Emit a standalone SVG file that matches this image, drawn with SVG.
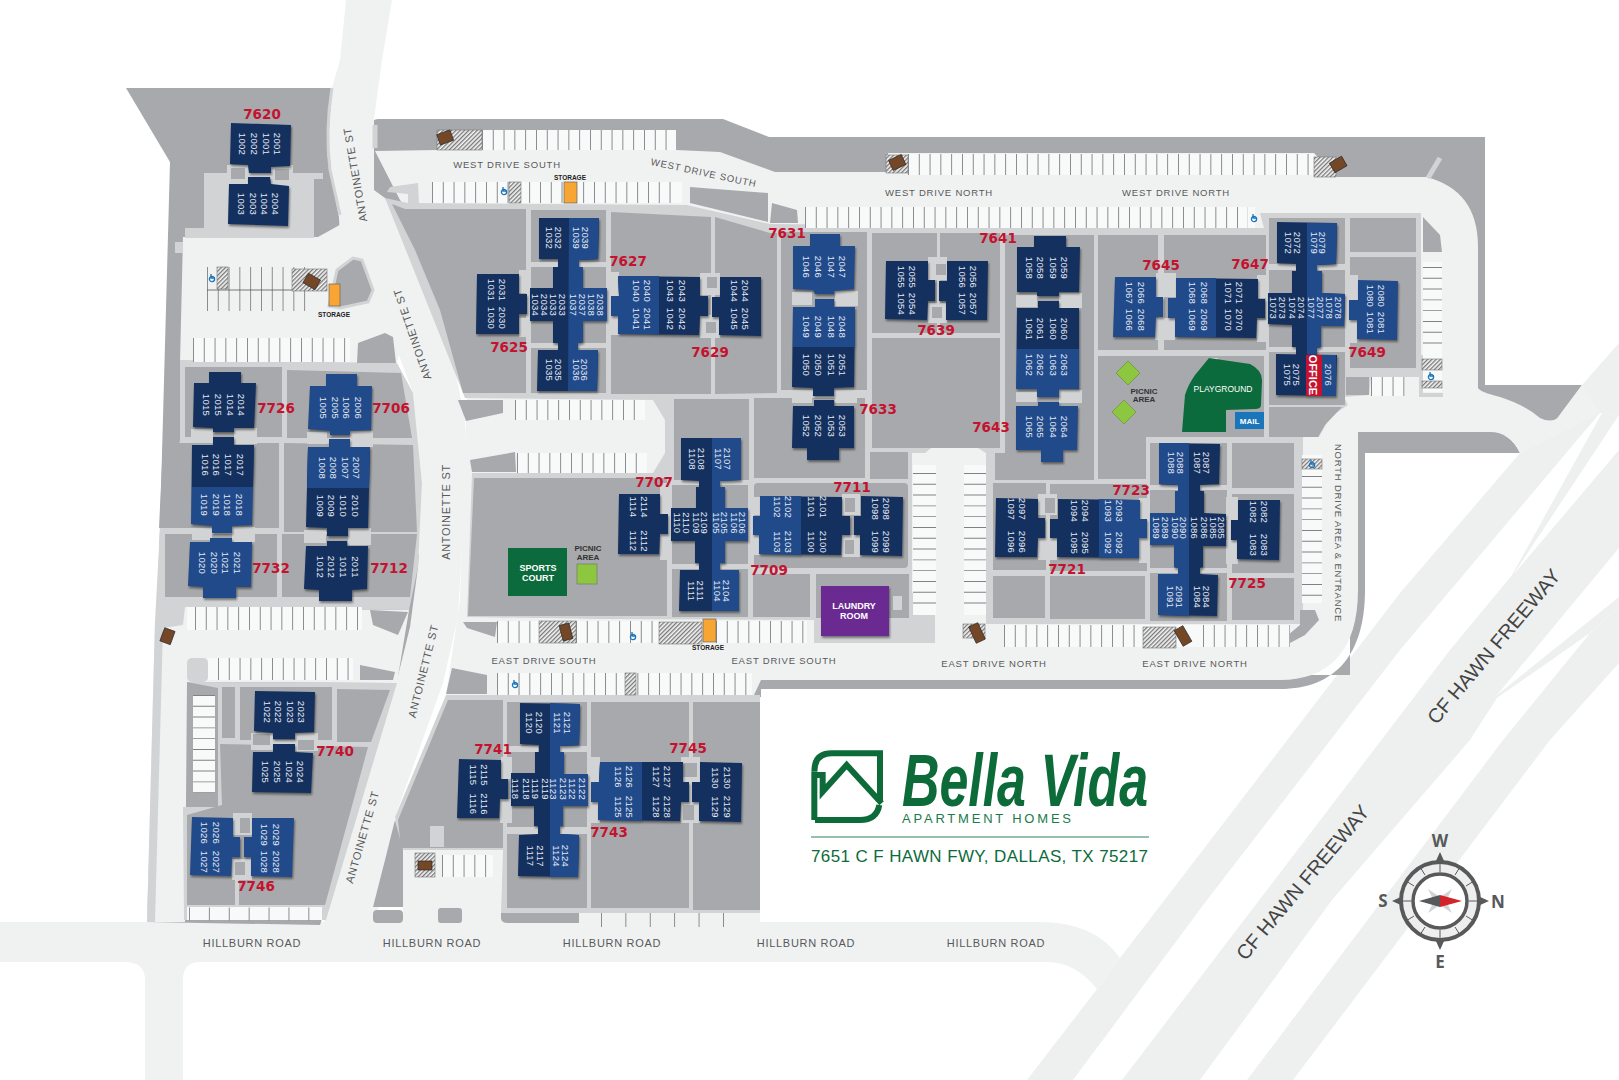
<svg xmlns="http://www.w3.org/2000/svg" width="1619" height="1080" viewBox="0 0 1619 1080">
<style>
.f{fill:#eef0f0}.r{fill:#f0f2f2}.g{fill:#a7a9ac}.s{fill:#d1d3d4}.w{fill:#f8f9f9}
.st{fill:none;stroke:#808184;stroke-dasharray:.9 9.9}
.h{fill:url(#hatch);stroke:#777;stroke-width:.6}
.dp{fill:#744726;stroke:#2b2b2b;stroke-width:.7}
.o{fill:#f9a533;stroke:#666;stroke-width:.7}
.b{filter:drop-shadow(1px 2px 1px rgba(0,0,0,.45))}
.d{fill:#14305f}.m{fill:#214a8b}
text{font-family:"Liberation Sans",Arial,sans-serif}
.u{font-size:9.500px;fill:#e6ebf3;text-anchor:middle;letter-spacing:.3px}
.n text{font-family:"DejaVu Sans",sans-serif;font-size:13.500px;font-weight:700;fill:#c4122f;text-anchor:middle}
.rd{font-size:9.500px;fill:#58595b;text-anchor:middle;letter-spacing:.8px}
.hb{font-size:11px;fill:#58595b;text-anchor:middle;letter-spacing:.7px}
.sm{font-size:6.500px;font-weight:700;fill:#222;text-anchor:middle}
.pa{font-size:8px;font-weight:700;fill:#333;text-anchor:middle}
.wt{font-size:9px;font-weight:700;fill:#fff;text-anchor:middle}
.fw{font-size:20px;fill:#444;text-anchor:middle}
.cp{font-family:"Noto Sans",sans-serif;font-size:17px;font-weight:700;fill:#58595b;text-anchor:middle}
</style>
<defs>
<pattern id="hatch" width="3" height="3" patternUnits="userSpaceOnUse" patternTransform="rotate(45)"><rect width="3" height="3" fill="#f4f4f4"/><rect width="1.3" height="3" fill="#777"/></pattern>
<g id="hc" fill="none" stroke="#1b75bb" stroke-width="1.3"><circle cx="0" cy="1" r="2.6"/><path d="M-1,-4V0H3"/></g>
</defs>
<rect width="1619" height="1080" fill="#fff"/>

<g id="freeways">
<path class="f" d="M1582,385L1619,343V415L1600,413L1400,650L1207,900L1073,1080H1027L1097,989L1120,958L1400,593L1520,453Z"/>
<path class="f" d="M1122,1080L1450,650L1512,575L1602,413L1619,415L1513,575L1619,450V548L1507,683L1497,695L1619,597V607L1590,633L1497,698L1470,740L1332,900L1200,1080Z"/>
<path class="f" d="M1247,1080L1503,740L1590,633L1619,607V663L1550,740L1293,1080Z"/>
<path class="r" d="M0,922H1040Q1095,922 1120,958L1097,989Q1075,962 1047,962H200Q183,962 183,980V1080H145V980Q145,962 125,962H0Z"/>
</g>

<g id="grounds">
<path class="g" d="M126,88H335L340,240L380,400L420,560L410,660L320,925L147,922L160,527L170,162Z"/>
<path class="g" d="M372,125Q372,119 378,119H723L769,137H1485V385H1582L1552,425L1490,440H1300L400,210L372,190Z"/>
<path class="g" d="M1350,432H1490Q1510,432 1520,453H1365V590C1365,655 1335,689 1280,689H761V697H700V675H1350Z"/>
<path class="r" d="M346,0H392L382,60L374,119V190L385,198L420,260L453,360L465,420L467,463L458,617L443,683L395,817L401,850L373,922H324L332,860L369,743L397,680L410,627L418,567L422,483L413,393L397,350L390,333L340,223L327,153L332,88L340,60Z"/>
<path class="r" d="M375,151L437,150V130H676V150L720,152L775,172H888V153H1314L1337,177H1426Q1478,190 1478,247V388Q1480,392 1500,397Q1525,405 1540,418Q1550,423 1558,418L1582,385L1600,413L1520,453Q1510,432 1490,432H1358V590C1358,650 1330,680 1280,680H761L754,695H446L460,600L470,300L400,200Z"/>
<path class="r" d="M183,237H318L345,222L400,350L397,363H180Z"/>
<path class="r" d="M155,620L185,607L409,610L397,683L187,682L185,922H147Z"/>
<rect class="r" x="403" y="845" width="100" height="80"/><rect class="r" x="575" y="905" width="185" height="22"/>
<path class="s" d="M155,620L163,628L155,922H147Z"/>
<path class="s" d="M385,198L408,203L687,205L770,224L1264,228L1260,213H1421V377H1371L1369,395L1344,397L1348,405L1330,417L1319,437H1303V622L1300,624H986V453L973,445H935L925,453H912V593H935V643H814V620L600,619L467,617L472,473H653L665,453V420L653,400L465,398Z"/>
<path class="s" d="M180,360L397,363L413,393L422,483L418,567L409,610L185,607L183,625L163,628L155,622L160,528L180,440Z"/>
<path class="s" d="M187,682L397,683L326,920H184L183,807H218V688Z"/>
<path class="s" d="M446,695H760V913H501L503,850H401L395,817Z"/>
<rect class="s" x="187" y="658" width="21" height="24" rx="5"/>
<path class="s" d="M210,173H323V179H314V238H185V228H204V173Z"/>
<rect class="s" x="175" y="242" width="8" height="11"/>
<path class="s" d="M387,192L390,187L418,183L419,205H408V194Z"/>
<path fill="none" stroke="#d1d3d4" stroke-width="5" d="M375,125V148M1440,158L1428,178"/>
<path fill="none" stroke="#d1d3d4" stroke-width="3" d="M332,88Q325,130 330,170L340,215"/>
<rect class="s" x="1419" y="355" width="4" height="40"/><rect class="s" x="1419" y="393" width="24" height="4"/>

<!-- lots -->
<g class="g">
<path d="M392,204L405,209H526V393H463L440,310L415,250Z"/>
<rect x="531" y="210" width="75" height="183"/>
<path d="M611,212L711,217V394H611Z"/><path d="M715,217L770,233H777V393L715,394Z"/>
<rect x="781" y="232" width="86" height="158"/>
<rect x="674" y="399" width="75" height="81"/>
<rect x="672" y="484" width="76" height="133"/>
<path d="M474,478H667V616H468Z"/>
<rect x="754" y="398" width="111" height="80"/><rect x="754" y="483" width="154" height="85" rx="4"/>
<rect x="753" y="574" width="57" height="43"/><rect x="816" y="574" width="93" height="44"/>
<rect x="872" y="233" width="65" height="100"/><rect x="940" y="233" width="60" height="100"/><rect x="872" y="338" width="128" height="110"/>
<rect x="870" y="452" width="38" height="27"/><rect x="1005" y="235" width="89" height="245"/><rect x="995" y="453" width="12" height="27"/>
<rect x="1098" y="235" width="60" height="115"/><rect x="1164" y="235" width="102" height="115"/>
<rect x="1098" y="356" width="166" height="81"/><rect x="1098" y="437" width="48" height="42"/>
<rect x="1269" y="218" width="76" height="187"/><path d="M1269,407H1342L1325,425L1318,437H1269Z"/>
<rect x="1350" y="218" width="66" height="34"/><rect x="1350" y="257" width="66" height="111"/><rect x="1346" y="377" width="23" height="18"/>
<rect x="993" y="483" width="53" height="87"/><rect x="1050" y="484" width="97" height="87"/>
<rect x="993" y="576" width="52" height="42"/><rect x="1050" y="576" width="95" height="43"/>
<rect x="1150" y="443" width="77" height="178"/><rect x="1232" y="443" width="62" height="45"/><rect x="1232" y="494" width="62" height="79"/><rect x="1232" y="578" width="62" height="42"/>
<rect x="185" y="367" width="97" height="70"/><path d="M287,370L401,373L412,438H287Z"/>
<path d="M163,443H279V528H159Z"/><path d="M284,443L413,445L417,532H284Z"/>
<rect x="165" y="534" width="112" height="63"/><path d="M282,534H417L410,597H282Z"/>
<rect x="222" y="687" width="13" height="51"/><rect x="240" y="687" width="92" height="53"/>
<path d="M337,689L390,690L371,742H337Z"/><path d="M220,744L368,747L325,905H187V815L222,805Z"/>
<rect x="507" y="702" width="80" height="206"/><rect x="591" y="702" width="98" height="206"/><rect x="693" y="702" width="67" height="208"/>
<path d="M448,700H503V848H401L398,820Z"/>
<path d="M395,820L403,850V907H373L385,860Z"/><rect x="373" y="910" width="30" height="13" rx="4"/><rect x="438" y="908" width="24" height="15" rx="3"/>
<path d="M501,913H579V923H508Q501,923 501,918Z"/>
<path d="M337,270L353,258L362,260L373,290L368,302L340,308L329,306Z" stroke="#d1d3d4" stroke-width="3"/>
<path d="M357,363L358,343L385,333L393,337L396,363Z"/>
<path d="M458,400H503V413L466,421Z"/><path d="M470,460L515,452L516,472H472Z"/>
<path d="M463,622H497L495,637L467,628Z"/><path d="M370,610L408,612L398,635L373,625Z"/>
<path d="M360,665L395,672L393,680H360Z"/><path d="M452,668L487,675V694H446Z"/>
<path d="M690,187L768,193V222L690,203Z"/><path d="M772,203L797,210L798,223H770Z"/>
<path d="M1423,217L1440,235L1442,252H1423Z"/>
<path d="M1300,610H1315L1319,620L1305,635L1290,643L1288,635L1300,625Z"/>
</g>
<!-- walks and plazas -->
<g class="s">
<rect x="531" y="262" width="27" height="5"/><rect x="579" y="262" width="28" height="5"/><rect x="531" y="343" width="27" height="5"/><rect x="578" y="343" width="29" height="5"/>
<rect x="672" y="480" width="27" height="5"/><rect x="720" y="480" width="28" height="5"/><rect x="672" y="564" width="27" height="5"/><rect x="720" y="564" width="28" height="5"/>
<rect x="1150" y="485" width="28" height="5"/><rect x="1200" y="485" width="27" height="5"/><rect x="1150" y="568" width="28" height="5"/><rect x="1200" y="568" width="27" height="5"/>
<rect x="507" y="746" width="31" height="6"/><rect x="560" y="746" width="27" height="6"/><rect x="507" y="827" width="31" height="7"/><rect x="560" y="827" width="27" height="7"/>
<rect x="1269" y="264" width="27" height="6"/><rect x="1317" y="264" width="28" height="6"/><rect x="1269" y="347" width="27" height="5"/><rect x="1317" y="347" width="28" height="5"/>
<rect x="227" y="165" width="22" height="20"/><rect x="271" y="165" width="22" height="20"/>
<rect x="519" y="270" width="8" height="23"/><rect x="519" y="318" width="8" height="19"/>
<rect x="700" y="273" width="20" height="22"/><rect x="700" y="315" width="20" height="23"/>
<rect x="792" y="292" width="20" height="13"/><rect x="835" y="291" width="23" height="15"/><rect x="792" y="390" width="20" height="13"/><rect x="835" y="390" width="22" height="13"/>
<rect x="928" y="257" width="19" height="23"/><rect x="928" y="303" width="19" height="20"/>
<rect x="1016" y="295" width="21" height="12"/><rect x="1059" y="293" width="23" height="15"/><rect x="1016" y="392" width="21" height="10"/><rect x="1059" y="390" width="23" height="13"/>
<rect x="191" y="429" width="22" height="14"/><rect x="234" y="428" width="23" height="16"/><rect x="192" y="528" width="20" height="12"/><rect x="232" y="527" width="23" height="15"/>
<rect x="307" y="432" width="20" height="12"/><rect x="350" y="431" width="23" height="16"/><rect x="304" y="530" width="22" height="13"/><rect x="348" y="528" width="23" height="17"/>
<rect x="842" y="494" width="18" height="21"/><rect x="842" y="535" width="18" height="22"/>
<rect x="1038" y="494" width="19" height="21"/><rect x="1038" y="538" width="19" height="22"/>
<rect x="1156" y="273" width="20" height="24"/><rect x="1155" y="318" width="20" height="22"/>
<rect x="1257" y="275" width="11" height="23"/><rect x="1257" y="320" width="11" height="22"/>
<rect x="1346" y="275" width="12" height="25"/><rect x="1346" y="320" width="11" height="23"/>
<rect x="607" y="272" width="12" height="24"/><rect x="607" y="315" width="12" height="20"/>
<rect x="660" y="483" width="12" height="31"/><rect x="660" y="534" width="12" height="26"/>
<rect x="749" y="497" width="11" height="18"/><rect x="749" y="535" width="11" height="20"/>
<rect x="1139" y="498" width="11" height="21"/><rect x="1139" y="538" width="11" height="25"/>
<rect x="1226" y="497" width="12" height="23"/><rect x="1226" y="540" width="12" height="24"/>
<rect x="251" y="733" width="22" height="17"/><rect x="295" y="733" width="23" height="18"/>
<rect x="501" y="757" width="11" height="22"/><rect x="500" y="799" width="12" height="24"/>
<rect x="588" y="757" width="12" height="25"/><rect x="588" y="802" width="12" height="21"/>
<rect x="681" y="757" width="19" height="25"/><rect x="681" y="802" width="19" height="21"/>
<rect x="233" y="813" width="19" height="22"/><rect x="232" y="859" width="20" height="21"/>
<rect x="430" y="826" width="14" height="21"/><rect x="235" y="877" width="4" height="28"/>
<rect x="1209" y="358" width="9" height="6"/><rect x="893" y="596" width="9" height="14"/>
</g>
<g class="g">
<rect x="231" y="168" width="14" height="11"/><rect x="275" y="169" width="14" height="11"/>
<rect x="707" y="277" width="10" height="11"/><rect x="706" y="322" width="10" height="11"/>
<rect x="936" y="264" width="10" height="11"/><rect x="932" y="307" width="10" height="11"/>
<rect x="845" y="498" width="10" height="14"/><rect x="845" y="540" width="9" height="14"/>
<rect x="1045" y="498" width="10" height="15"/>
<rect x="253" y="734" width="17" height="11"/><rect x="298" y="740" width="16" height="10"/>
<rect x="683" y="763" width="14" height="14"/><rect x="683" y="805" width="11" height="15"/>
<rect x="240" y="818" width="10" height="15"/><rect x="235" y="862" width="10" height="13"/>
</g>
</g>

<g id="parking">
<g class="w">
<rect x="482" y="130" width="194" height="20"/><rect x="432" y="182" width="250" height="21"/>
<rect x="908" y="154" width="406" height="21"/><rect x="805" y="207" width="450" height="21"/>
<rect x="1423" y="262" width="19" height="130"/><rect x="1371" y="377" width="34" height="19"/>
<rect x="1302" y="455" width="20" height="148"/><rect x="1004" y="625" width="286" height="22"/>
<rect x="913" y="465" width="23" height="150"/><rect x="964" y="465" width="22" height="150"/>
<rect x="497" y="621" width="310" height="22"/><rect x="497" y="673" width="255" height="22"/>
<rect x="187" y="607" width="175" height="23"/><rect x="208" y="658" width="145" height="22"/>
<rect x="193" y="695" width="22" height="98"/><rect x="187" y="907" width="135" height="13"/>
<rect x="442" y="855" width="51" height="22"/><rect x="515" y="400" width="130" height="20"/><rect x="517" y="453" width="130" height="20"/>
<rect x="193" y="338" width="157" height="24"/>
</g>
<g class="st">
<path stroke-width="20" d="M482,140H676"/><path stroke-width="21" d="M432,192.500H676"/>
<path stroke-width="21" d="M908,164.500H1314"/><path stroke-width="21" d="M805,217.500H1248"/>
<path stroke-width="19" d="M1432.500,267V352"/><path stroke-width="19" d="M1371,386.500H1405"/>
<path stroke-width="20" d="M1312,476V602"/><path stroke-width="22" d="M1004,636H1143"/><path stroke-width="22" d="M1203,636H1290"/>
<path stroke-width="23" d="M924.500,473V613"/><path stroke-width="22" d="M975,473V613"/>
<path stroke-width="22" d="M497,632H539"/><path stroke-width="22" d="M576,632H659"/><path stroke-width="22" d="M716,632H805"/>
<path stroke-width="22" d="M497,684H752"/><path stroke-width="23" d="M195,618.500H358"/><path stroke-width="22" d="M218,669H350"/>
<path stroke-width="22" d="M204,695V793"/><path stroke-width="22" d="M442,866H493"/>
<path stroke-width="20" d="M515,410H643"/><path stroke-width="20" d="M517,463H643"/>
<path stroke-width="24" d="M193,350H347"/><path stroke-width="44" d="M207,289H313"/>
<path stroke-width="13" stroke-dasharray=".9 19" d="M189,914H320"/><path stroke-width="14" stroke-dasharray=".9 23.500" d="M601,920H724"/>
</g>
<path d="M207,290H292" stroke="#555" stroke-width=".8"/>
<rect class="h" x="437" y="130" width="45" height="20"/><rect class="h" x="509" y="182" width="12" height="21"/>
<rect class="h" x="886" y="155" width="22" height="18"/><rect class="h" x="1314" y="157" width="22" height="20"/>
<rect class="h" x="1422" y="359" width="20" height="11"/><rect class="h" x="1422" y="381" width="20" height="7"/>
<rect class="h" x="1302" y="459" width="20" height="10"/><rect class="h" x="1143" y="627" width="33" height="21"/>
<rect class="h" x="963" y="624" width="22" height="14"/><rect class="h" x="539" y="621" width="37" height="22"/>
<rect class="h" x="659" y="622" width="43" height="22"/><rect class="h" x="625" y="673" width="11" height="22"/>
<rect class="h" x="217" y="267" width="11" height="22"/><rect class="h" x="292" y="269" width="35" height="22"/>
<rect class="h" x="415" y="853" width="20" height="24"/>
<g class="dp">
<rect x="438" y="132" width="14" height="11" transform="rotate(-20 445 137)"/>
<rect x="890" y="157" width="14" height="11" transform="rotate(-25 897 162)"/>
<rect x="1331" y="159" width="14" height="11" transform="rotate(-30 1338 164)"/>
<rect x="305" y="276" width="14" height="11" transform="rotate(30 312 281)"/>
<rect x="160" y="631" width="14" height="11" transform="rotate(-70 167 636)"/>
<rect x="972" y="624" width="10" height="18" transform="rotate(-25 977 633)"/>
<rect x="1178" y="627" width="10" height="18" transform="rotate(-30 1183 636)"/>
<rect x="561" y="624" width="10" height="16" transform="rotate(-15 566 632)"/>
<rect x="418" y="861" width="14" height="9"/>
</g>
<rect class="o" x="564" y="182" width="13" height="21"/><rect class="o" x="703" y="619" width="13" height="23"/><rect class="o" x="329" y="284" width="11" height="22"/>
<use href="#hc" x="504" y="191"/><use href="#hc" x="1254" y="218"/><use href="#hc" x="1431" y="376"/><use href="#hc" x="1312" y="464"/><use href="#hc" x="633" y="636"/><use href="#hc" x="515" y="684"/><use href="#hc" x="212" y="278"/>
<text class="sm" x="570" y="179.500">STORAGE</text><text class="sm" x="708" y="649.500">STORAGE</text><text class="sm" x="334" y="316.500">STORAGE</text>
</g>

<g id="amenities">
<g id="sports"><rect x="508" y="548" width="59" height="48" fill="#0c6b3c"/><text class="wt" x="538" y="571">SPORTS</text><text class="wt" x="538" y="581">COURT</text></g>
<g id="picnic1"><rect x="577" y="564" width="20" height="20" fill="#8dc63f" stroke="#666" stroke-width=".5"/><text class="pa" x="588" y="551">PICNIC</text><text class="pa" x="588" y="560">AREA</text></g>
<g id="picnic2"><path d="M1128,361L1140,373L1128,385L1116,373ZM1124,400L1136,412L1124,424L1112,412Z" fill="#8dc63f" stroke="#5d7f2a" stroke-width=".5"/><text class="pa" x="1144" y="394">PICNIC</text><text class="pa" x="1144" y="402">AREA</text></g>
<g id="playground"><path d="M1209,358L1250,364Q1262,370 1262,380L1261,405Q1261,409 1255,409L1226,410V432H1182L1185,395Q1188,385 1195,375Z" fill="#0c6b3c"/><text x="1223" y="392" font-size="8.500" fill="#fff" text-anchor="middle">PLAYGROUND</text></g>
<g id="mail"><rect x="1235" y="412" width="29" height="17" fill="#1b75bb"/><text x="1249.500" y="424" font-size="8" font-weight="700" fill="#fff" text-anchor="middle">MAIL</text></g>
<g id="laundry"><rect class="b" x="821" y="586" width="68" height="50" fill="#6a2a91"/><text class="wt" x="854" y="609">LAUNDRY</text><text class="wt" x="854" y="619">ROOM</text></g>
</g>

<g id="buildings">
<g class="b"><polygon class="d" points="231,123 291,125 290,166 271,167 271,173 249,173 248,165 230,164"/><polygon class="d" points="229,184 248,184 248,177 270,177 271,184 289,186 288,226 228,224"/>
<polygon class="d" points="477,274 519,274 519,294 527,294 527,314 519,314 519,334 476,334"/>
<polygon class="d" points="539,218 599,218 598,259 579,260 579,267 583,267 583,288 607,288 607,321 583,321 583,342 578,343 578,350 598,350 597,391 537,391 538,350 558,350 558,343 553,343 553,321 530,321 530,288 553,288 553,267 558,267 558,259 539,259"/><polygon class="m" points="569,218 599,218 598,259 579,260 579,267 583,267 583,288 607,288 607,321 583,321 583,342 578,343 578,350 598,350 597,391 568,391"/>
<polygon class="d" points="618,276 700,277 700,296 708,296 708,316 700,316 699,335 618,334 618,316 611,316 611,296 619,296"/><polygon class="m" points="618,276 659,276 659,334 618,334 618,316 611,316 611,296 619,296"/>
<polygon class="d" points="720,277 761,277 761,336 719,335 719,317 712,317 712,297 720,297"/>
<polygon class="m" points="810,234 840,234 840,246 855,246 854,289 834,291 834,294 815,294 813,290 793,289 793,246 810,246"/>
<polygon class="d" points="815,299 834,299 834,307 855,307 854,387 834,388 834,396 813,396 813,388 792,387 793,307 815,307"/><polygon class="m" points="815,299 834,299 834,307 855,307 855,347 793,347 793,307 815,307"/>
<polygon class="d" points="814,400 834,400 834,406 854,406 854,448 839,448 839,460 807,460 807,448 792,448 793,406 814,406"/>
<polygon class="d" points="886,261 928,261 928,280 935,280 935,301 928,301 927,320 885,319"/>
<polygon class="d" points="947,261 988,261 987,320 946,320 946,301 939,301 939,281 947,281"/>
<polygon class="d" points="1034,236 1066,236 1066,247 1080,247 1079,292 1059,292 1059,296 1037,296 1037,292 1017,292 1017,247 1034,247"/>
<polygon class="m" points="1038,301 1059,301 1059,308 1079,308 1079,389 1059,389 1059,397 1037,397 1037,389 1016,389 1017,308 1038,308"/><polygon class="d" points="1038,301 1059,301 1059,308 1079,308 1079,349 1017,349 1017,308 1038,308"/>
<polygon class="m" points="1038,402 1059,402 1059,406 1078,406 1077,450 1063,450 1063,462 1041,462 1041,450 1016,450 1016,406 1038,406"/>
<polygon class="m" points="1115,277 1156,277 1156,297 1163,297 1163,317 1156,317 1155,337 1113,337"/>
<polygon class="d" points="1176,278 1258,279 1258,299 1265,299 1265,318 1257,318 1256,338 1175,337 1175,318 1168,318 1168,298 1176,298"/><polygon class="m" points="1176,278 1216,278 1216,337 1175,337 1175,318 1168,318 1168,298 1176,298"/>
<polygon class="d" points="1277,222 1337,223 1336,264 1317,265 1317,271 1322,271 1322,293 1345,294 1344,326 1321,326 1321,347 1317,348 1317,355 1296,355 1296,347 1292,347 1292,325 1268,324 1268,293 1292,293 1292,271 1296,271 1296,264 1277,263"/><polygon class="m" points="1307,223 1337,223 1336,264 1317,265 1317,271 1322,271 1322,293 1345,294 1344,326 1321,326 1321,347 1317,348 1317,355 1307,355"/>
<polygon class="d" points="1276,354 1337,355 1336,396 1276,395"/><rect class="m" x="1322" y="355" width="14" height="41"/><rect x="1306" y="355" width="16" height="41" fill="#c4122f"/>
<polygon class="m" points="1358,280 1398,281 1397,340 1357,339 1357,320 1349,320 1349,300 1358,300"/>
<polygon class="d" points="209,372 241,372 241,383 256,383 254,428 234,428 234,432 213,432 213,428 193,427 194,383 209,383"/>
<polygon class="m" points="213,437 234,437 234,445 254,445 252,525 232,526 232,533 212,533 212,526 191,524 192,445 213,445"/><polygon class="d" points="213,437 234,437 234,445 254,445 253,487 192,487 192,445 213,445"/>
<polygon class="m" points="210,538 232,538 232,542 252,542 251,587 236,587 236,598 203,598 203,587 188,586 190,542 210,542"/>
<polygon class="m" points="326,374 357,374 357,386 372,386 371,430 350,431 350,435 330,435 330,431 308,429 310,386 326,386"/>
<polygon class="d" points="329,439 350,439 350,447 370,447 368,528 348,528 348,536 327,536 327,528 306,527 308,447 329,447"/><polygon class="m" points="329,439 350,439 350,447 370,447 369,488 307,488 308,447 329,447"/>
<polygon class="d" points="327,541 347,541 347,546 368,546 367,589 352,590 352,601 319,601 319,590 304,589 306,546 327,546"/>
<polygon class="d" points="681,438 741,438 741,480 720,481 720,487 725,487 725,508 748,508 748,541 725,541 725,563 720,563 720,570 739,570 739,611 679,611 680,570 699,570 699,563 695,563 695,541 671,541 671,508 696,508 696,487 699,487 699,481 681,480"/><polygon class="m" points="712,438 741,438 741,480 720,481 720,487 725,487 725,508 748,508 748,541 725,541 725,563 720,563 720,570 739,570 739,611 712,611"/>
<polygon class="d" points="619,494 660,494 660,514 668,514 668,534 660,534 659,554 618,554"/>
<polygon class="d" points="760,496 842,497 842,516 850,516 850,535 842,535 841,555 759,554 759,535 753,535 753,516 760,516"/><polygon class="m" points="760,496 801,496 801,555 759,554 759,535 753,535 753,516 760,516"/>
<polygon class="d" points="861,496 903,497 902,556 860,555 860,535 854,535 854,516 861,516"/>
<polygon class="d" points="996,498 1038,499 1038,518 1045,518 1045,538 1038,538 1037,557 995,557"/>
<polygon class="d" points="1058,499 1140,500 1140,519 1147,519 1147,538 1139,538 1139,558 1057,557 1057,538 1050,538 1050,519 1058,519"/><polygon class="m" points="1099,499 1140,500 1140,519 1147,519 1147,538 1139,538 1139,558 1099,558"/>
<polygon class="d" points="1159,443 1220,444 1219,484 1200,485 1200,491 1204,491 1204,513 1226,514 1226,546 1203,546 1203,567 1200,568 1200,574 1218,575 1217,616 1158,615 1158,574 1178,574 1178,568 1174,567 1174,545 1150,545 1150,513 1175,513 1175,491 1178,491 1178,485 1159,484"/><polygon class="m" points="1189,443 1159,443 1159,484 1178,485 1178,491 1175,491 1175,513 1150,513 1150,545 1174,545 1174,567 1178,568 1178,574 1158,574 1158,615 1189,616"/>
<polygon class="d" points="1238,500 1280,500 1279,560 1237,559 1237,540 1231,540 1231,520 1238,520"/>
<polygon class="d" points="255,691 315,692 314,732 295,733 295,739 273,739 273,733 254,731"/>
<polygon class="d" points="253,752 273,752 273,744 295,744 295,752 313,753 311,793 252,792"/>
<polygon class="m" points="192,817 233,818 233,837 240,837 240,857 232,857 231,876 190,875"/>
<polygon class="m" points="252,818 294,818 292,877 251,876 251,857 244,857 244,837 252,837"/>
<polygon class="d" points="520,703 580,704 579,745 560,746 560,752 564,752 564,774 588,774 588,806 563,806 563,826 560,826 560,834 579,835 578,877 518,876 519,835 538,834 538,826 534,826 534,806 511,806 511,773 535,773 535,752 539,752 539,745 520,744"/><polygon class="m" points="550,703 580,704 579,745 560,746 560,752 564,752 564,774 588,774 588,806 563,806 563,826 560,826 560,834 579,835 578,877 550,877"/>
<polygon class="d" points="459,759 501,760 501,779 508,779 508,799 500,799 499,818 457,818"/>
<polygon class="d" points="600,762 683,762 683,782 689,782 689,802 681,802 680,821 598,820 598,802 591,802 591,782 599,782"/><polygon class="m" points="600,762 642,762 642,821 598,820 598,802 591,802 591,782 599,782"/>
<polygon class="d" points="700,762 742,763 741,822 699,821 699,802 692,802 692,782 700,782"/></g>
<g id="unit-labels" class="u">
<text transform="translate(274,144) rotate(90)">2001</text><text transform="translate(263,144) rotate(90)">1001</text><text transform="translate(251,144) rotate(90)">2002</text><text transform="translate(239,144) rotate(90)">1002</text>
<text transform="translate(272,204) rotate(90)">2004</text><text transform="translate(261,204) rotate(90)">1004</text><text transform="translate(250,204) rotate(90)">2003</text><text transform="translate(238,204) rotate(90)">1003</text>
<text transform="translate(499,290) rotate(90)">2031</text><text transform="translate(499,318) rotate(90)">2030</text><text transform="translate(488,290) rotate(90)">1031</text><text transform="translate(488,318) rotate(90)">1030</text>
<text transform="translate(582,238) rotate(90)">2039</text><text transform="translate(573,238) rotate(90)">1039</text><text transform="translate(555,238) rotate(90)">2032</text><text transform="translate(546,238) rotate(90)">1032</text>
<text transform="translate(532,305) rotate(90)">1034</text><text transform="translate(541,305) rotate(90)">2034</text><text transform="translate(550,305) rotate(90)">1033</text><text transform="translate(559,305) rotate(90)">2033</text><text transform="translate(570,305) rotate(90)">1037</text><text transform="translate(579,305) rotate(90)">2037</text><text transform="translate(588,305) rotate(90)">1038</text><text transform="translate(597,305) rotate(90)">2038</text>
<text transform="translate(581,370) rotate(90)">2036</text><text transform="translate(573,370) rotate(90)">1036</text><text transform="translate(555,370) rotate(90)">2035</text><text transform="translate(546,370) rotate(90)">1035</text>
<text transform="translate(644,291) rotate(90)">2040</text><text transform="translate(633,291) rotate(90)">1040</text><text transform="translate(644,319) rotate(90)">2041</text><text transform="translate(633,319) rotate(90)">1041</text>
<text transform="translate(679,291) rotate(90)">2043</text><text transform="translate(667,291) rotate(90)">1043</text><text transform="translate(679,319) rotate(90)">2042</text><text transform="translate(667,319) rotate(90)">1042</text>
<text transform="translate(742,291) rotate(90)">2044</text><text transform="translate(731,291) rotate(90)">1044</text><text transform="translate(742,319) rotate(90)">2045</text><text transform="translate(731,319) rotate(90)">1045</text>
<text transform="translate(839,267) rotate(90)">2047</text><text transform="translate(828,267) rotate(90)">1047</text><text transform="translate(815,267) rotate(90)">2046</text><text transform="translate(803,267) rotate(90)">1046</text>
<text transform="translate(839,327) rotate(90)">2048</text><text transform="translate(828,327) rotate(90)">1048</text><text transform="translate(815,327) rotate(90)">2049</text><text transform="translate(803,327) rotate(90)">1049</text>
<text transform="translate(839,365) rotate(90)">2051</text><text transform="translate(828,365) rotate(90)">1051</text><text transform="translate(815,365) rotate(90)">2050</text><text transform="translate(803,365) rotate(90)">1050</text>
<text transform="translate(839,426) rotate(90)">2053</text><text transform="translate(828,426) rotate(90)">1053</text><text transform="translate(815,426) rotate(90)">2052</text><text transform="translate(803,426) rotate(90)">1052</text>
<text transform="translate(909,277) rotate(90)">2055</text><text transform="translate(898,277) rotate(90)">1055</text><text transform="translate(909,304) rotate(90)">2054</text><text transform="translate(898,304) rotate(90)">1054</text>
<text transform="translate(970,277) rotate(90)">2056</text><text transform="translate(959,277) rotate(90)">1056</text><text transform="translate(970,304) rotate(90)">2057</text><text transform="translate(959,304) rotate(90)">1057</text>
<text transform="translate(1061,268) rotate(90)">2059</text><text transform="translate(1050,268) rotate(90)">1059</text><text transform="translate(1037,268) rotate(90)">2058</text><text transform="translate(1026,268) rotate(90)">1058</text>
<text transform="translate(1061,329) rotate(90)">2060</text><text transform="translate(1050,329) rotate(90)">1060</text><text transform="translate(1037,329) rotate(90)">2061</text><text transform="translate(1026,329) rotate(90)">1061</text>
<text transform="translate(1061,365) rotate(90)">2063</text><text transform="translate(1050,365) rotate(90)">1063</text><text transform="translate(1037,365) rotate(90)">2062</text><text transform="translate(1026,365) rotate(90)">1062</text>
<text transform="translate(1061,427) rotate(90)">2064</text><text transform="translate(1050,427) rotate(90)">1064</text><text transform="translate(1037,427) rotate(90)">2065</text><text transform="translate(1026,427) rotate(90)">1065</text>
<text transform="translate(1138,293) rotate(90)">2066</text><text transform="translate(1126,293) rotate(90)">1067</text><text transform="translate(1138,320) rotate(90)">2068</text><text transform="translate(1126,320) rotate(90)">1066</text>
<text transform="translate(1201,293) rotate(90)">2068</text><text transform="translate(1189,293) rotate(90)">1068</text><text transform="translate(1201,320) rotate(90)">2069</text><text transform="translate(1189,320) rotate(90)">1069</text>
<text transform="translate(1236,293) rotate(90)">2071</text><text transform="translate(1225,293) rotate(90)">1071</text><text transform="translate(1236,320) rotate(90)">2070</text><text transform="translate(1225,320) rotate(90)">1070</text>
<text transform="translate(1319,243) rotate(90)">2079</text><text transform="translate(1311,243) rotate(90)">1079</text><text transform="translate(1294,243) rotate(90)">2072</text><text transform="translate(1285,243) rotate(90)">1072</text>
<text transform="translate(1335,308) rotate(90)">2078</text><text transform="translate(1326,308) rotate(90)">1078</text><text transform="translate(1317,308) rotate(90)">2077</text><text transform="translate(1308,308) rotate(90)">1077</text><text transform="translate(1298,308) rotate(90)">2074</text><text transform="translate(1289,308) rotate(90)">1074</text><text transform="translate(1279,308) rotate(90)">2073</text><text transform="translate(1270,308) rotate(90)">1073</text>
<text transform="translate(1325,375) rotate(90)">2076</text><text transform="translate(1293,375) rotate(90)">2075</text><text transform="translate(1284,375) rotate(90)">1075</text>
<text transform="translate(1378,296) rotate(90)">2080</text><text transform="translate(1367,296) rotate(90)">1080</text><text transform="translate(1378,323) rotate(90)">2081</text><text transform="translate(1367,323) rotate(90)">1081</text>
<text transform="translate(238,405) rotate(90)">2014</text><text transform="translate(227,405) rotate(90)">1014</text><text transform="translate(215,405) rotate(90)">2015</text><text transform="translate(203,405) rotate(90)">1015</text>
<text transform="translate(237,465) rotate(90)">2017</text><text transform="translate(225,465) rotate(90)">1017</text><text transform="translate(213,465) rotate(90)">2016</text><text transform="translate(202,465) rotate(90)">1016</text>
<text transform="translate(236,505) rotate(90)">2018</text><text transform="translate(224,505) rotate(90)">1018</text><text transform="translate(213,505) rotate(90)">2019</text><text transform="translate(201,505) rotate(90)">1019</text>
<text transform="translate(234,563) rotate(90)">2021</text><text transform="translate(222,563) rotate(90)">1021</text><text transform="translate(211,563) rotate(90)">2020</text><text transform="translate(199,563) rotate(90)">1020</text>
<text transform="translate(355,408) rotate(90)">2006</text><text transform="translate(343,408) rotate(90)">1006</text><text transform="translate(332,408) rotate(90)">2005</text><text transform="translate(320,408) rotate(90)">1005</text>
<text transform="translate(353,468) rotate(90)">2007</text><text transform="translate(342,468) rotate(90)">1007</text><text transform="translate(330,468) rotate(90)">2008</text><text transform="translate(319,468) rotate(90)">1008</text>
<text transform="translate(352,506) rotate(90)">2010</text><text transform="translate(340,506) rotate(90)">1010</text><text transform="translate(328,506) rotate(90)">2009</text><text transform="translate(317,506) rotate(90)">1009</text>
<text transform="translate(352,567) rotate(90)">2011</text><text transform="translate(340,567) rotate(90)">1011</text><text transform="translate(328,567) rotate(90)">2012</text><text transform="translate(317,567) rotate(90)">1012</text>
<text transform="translate(724,459) rotate(90)">2107</text><text transform="translate(715,459) rotate(90)">1107</text><text transform="translate(698,459) rotate(90)">2108</text><text transform="translate(689,459) rotate(90)">1108</text>
<text transform="translate(739,523) rotate(90)">2106</text><text transform="translate(731,523) rotate(90)">1106</text><text transform="translate(721,523) rotate(90)">2105</text><text transform="translate(713,523) rotate(90)">1105</text><text transform="translate(701,523) rotate(90)">2109</text><text transform="translate(693,523) rotate(90)">1109</text><text transform="translate(683,523) rotate(90)">2110</text><text transform="translate(674,523) rotate(90)">1110</text>
<text transform="translate(723,591) rotate(90)">2104</text><text transform="translate(714,591) rotate(90)">1104</text><text transform="translate(697,591) rotate(90)">2111</text><text transform="translate(688,591) rotate(90)">1111</text>
<text transform="translate(641,507) rotate(90)">2114</text><text transform="translate(630,507) rotate(90)">1114</text><text transform="translate(641,541) rotate(90)">2112</text><text transform="translate(630,541) rotate(90)">1112</text>
<text transform="translate(785,507) rotate(90)">2102</text><text transform="translate(774,507) rotate(90)">1102</text><text transform="translate(785,542) rotate(90)">2103</text><text transform="translate(774,542) rotate(90)">1103</text>
<text transform="translate(820,507) rotate(90)">2101</text><text transform="translate(808,507) rotate(90)">1101</text><text transform="translate(820,542) rotate(90)">2100</text><text transform="translate(808,542) rotate(90)">1100</text>
<text transform="translate(883,509) rotate(90)">2098</text><text transform="translate(872,509) rotate(90)">1098</text><text transform="translate(883,542) rotate(90)">2099</text><text transform="translate(872,542) rotate(90)">1099</text>
<text transform="translate(1019,509) rotate(90)">2097</text><text transform="translate(1008,509) rotate(90)">1097</text><text transform="translate(1019,542) rotate(90)">2096</text><text transform="translate(1008,542) rotate(90)">1096</text>
<text transform="translate(1082,511) rotate(90)">2094</text><text transform="translate(1071,511) rotate(90)">1094</text><text transform="translate(1082,543) rotate(90)">2095</text><text transform="translate(1071,543) rotate(90)">1095</text>
<text transform="translate(1116,511) rotate(90)">2093</text><text transform="translate(1105,511) rotate(90)">1093</text><text transform="translate(1116,543) rotate(90)">2092</text><text transform="translate(1105,543) rotate(90)">1092</text>
<text transform="translate(1203,463) rotate(90)">2087</text><text transform="translate(1194,463) rotate(90)">1087</text><text transform="translate(1177,463) rotate(90)">2088</text><text transform="translate(1168,463) rotate(90)">1088</text>
<text transform="translate(1153,528) rotate(90)">1089</text><text transform="translate(1162,528) rotate(90)">2089</text><text transform="translate(1172,528) rotate(90)">1090</text><text transform="translate(1180,528) rotate(90)">2090</text><text transform="translate(1191,528) rotate(90)">1086</text><text transform="translate(1201,528) rotate(90)">2086</text><text transform="translate(1210,528) rotate(90)">1085</text><text transform="translate(1218,528) rotate(90)">2085</text>
<text transform="translate(1203,597) rotate(90)">2084</text><text transform="translate(1194,597) rotate(90)">1084</text><text transform="translate(1176,597) rotate(90)">2091</text><text transform="translate(1167,597) rotate(90)">1091</text>
<text transform="translate(1261,512) rotate(90)">2082</text><text transform="translate(1250,512) rotate(90)">1082</text><text transform="translate(1261,545) rotate(90)">2083</text><text transform="translate(1250,545) rotate(90)">1083</text>
<text transform="translate(298,712) rotate(90)">2023</text><text transform="translate(287,712) rotate(90)">1023</text><text transform="translate(275,712) rotate(90)">2022</text><text transform="translate(264,712) rotate(90)">1022</text>
<text transform="translate(297,772) rotate(90)">2024</text><text transform="translate(286,772) rotate(90)">1024</text><text transform="translate(274,772) rotate(90)">2025</text><text transform="translate(262,772) rotate(90)">1025</text>
<text transform="translate(213,833) rotate(90)">2026</text><text transform="translate(201,833) rotate(90)">1026</text><text transform="translate(213,862) rotate(90)">2027</text><text transform="translate(201,862) rotate(90)">1027</text>
<text transform="translate(273,835) rotate(90)">2029</text><text transform="translate(261,835) rotate(90)">1029</text><text transform="translate(273,862) rotate(90)">2028</text><text transform="translate(261,862) rotate(90)">1028</text>
<text transform="translate(564,723) rotate(90)">2121</text><text transform="translate(554,723) rotate(90)">1121</text><text transform="translate(536,723) rotate(90)">2120</text><text transform="translate(526,723) rotate(90)">1120</text>
<text transform="translate(512,789) rotate(90)">1118</text><text transform="translate(523,789) rotate(90)">2118</text><text transform="translate(532,789) rotate(90)">1119</text><text transform="translate(542,789) rotate(90)">2119</text><text transform="translate(550,789) rotate(90)">1123</text><text transform="translate(560,789) rotate(90)">2123</text><text transform="translate(569,789) rotate(90)">1122</text><text transform="translate(579,789) rotate(90)">2122</text>
<text transform="translate(562,856) rotate(90)">2124</text><text transform="translate(553,856) rotate(90)">1124</text><text transform="translate(537,856) rotate(90)">2117</text><text transform="translate(527,856) rotate(90)">1117</text>
<text transform="translate(481,775) rotate(90)">2115</text><text transform="translate(470,775) rotate(90)">1115</text><text transform="translate(481,804) rotate(90)">2116</text><text transform="translate(470,804) rotate(90)">1116</text>
<text transform="translate(626,777) rotate(90)">2126</text><text transform="translate(615,777) rotate(90)">1126</text><text transform="translate(626,807) rotate(90)">2125</text><text transform="translate(615,807) rotate(90)">1125</text>
<text transform="translate(664,777) rotate(90)">2127</text><text transform="translate(653,777) rotate(90)">1127</text><text transform="translate(664,807) rotate(90)">2128</text><text transform="translate(653,807) rotate(90)">1128</text>
<text transform="translate(724,778) rotate(90)">2130</text><text transform="translate(712,778) rotate(90)">1130</text><text transform="translate(724,807) rotate(90)">2129</text><text transform="translate(712,807) rotate(90)">1129</text>
</g>
<text transform="translate(1309,375) rotate(90)" font-size="11" font-weight="700" fill="#fff" text-anchor="middle">OFFICE</text>
</g>

<g id="building-numbers" class="n">
<text x="262" y="119">7620</text><text x="509" y="352">7625</text><text x="628" y="266">7627</text><text x="710" y="357">7629</text><text x="787" y="238">7631</text><text x="878" y="414">7633</text><text x="936" y="335">7639</text><text x="998" y="243">7641</text><text x="991" y="432">7643</text><text x="1161" y="270">7645</text><text x="1250" y="269">7647</text><text x="1367" y="357">7649</text><text x="276" y="413">7726</text><text x="391" y="413">7706</text><text x="271" y="573">7732</text><text x="389" y="573">7712</text><text x="654" y="487">7707</text><text x="769" y="575">7709</text><text x="852" y="492">7711</text><text x="1067" y="574">7721</text><text x="1131" y="495">7723</text><text x="1247" y="588">7725</text><text x="335" y="756">7740</text><text x="493" y="754">7741</text><text x="609" y="837">7743</text><text x="688" y="753">7745</text><text x="256" y="891">7746</text>
</g>

<g id="road-labels">
<g class="rd">
<text x="507" y="168">WEST DRIVE SOUTH</text>
<text transform="translate(703,176) rotate(12)">WEST DRIVE SOUTH</text>
<text x="939" y="196">WEST DRIVE NORTH</text><text x="1176" y="196">WEST DRIVE NORTH</text>
<text x="544" y="664">EAST DRIVE SOUTH</text><text x="784" y="664">EAST DRIVE SOUTH</text>
<text x="994" y="667">EAST DRIVE NORTH</text><text x="1195" y="667">EAST DRIVE NORTH</text>
<text transform="translate(1335,533) rotate(90)">NORTH DRIVE AREA &amp; ENTRANCE</text>
</g>
<g class="hb">
<text transform="translate(359,174) rotate(-100)">ANTOINETTE ST</text>
<text transform="translate(416,333) rotate(-109)">ANTOINETTE ST</text>
<text transform="translate(450,512) rotate(-90)">ANTOINETTE ST</text>
<text transform="translate(427,672) rotate(-76)">ANTOINETTE ST</text>
<text transform="translate(366,838) rotate(-74)">ANTOINETTE ST</text>
<text x="252" y="947">HILLBURN ROAD</text><text x="432" y="947">HILLBURN ROAD</text><text x="612" y="947">HILLBURN ROAD</text><text x="806" y="947">HILLBURN ROAD</text><text x="996" y="947">HILLBURN ROAD</text>
</g>
<text class="fw" transform="translate(1499,651) rotate(-50)">CF HAWN FREEWAY</text>
<text class="fw" transform="translate(1308,887) rotate(-50)">CF HAWN FREEWAY</text>
</g>

<g id="logo">
<g transform="translate(780,720) scale(.3333)" fill="none" stroke="#0d6b3a" stroke-width="18">
<path d="M103,155Q103,100 155,100H300V240"/>
<path d="M103,300V165H128V215L200,135L305,250"/>
<path d="M105,300H240Q290,300 298,255"/>
</g>
<text x="902" y="806" font-family="Lato,sans-serif" font-size="74" font-weight="700" font-style="italic" fill="#0d6b3a" textLength="246" lengthAdjust="spacingAndGlyphs">Bella Vida</text>
<text x="902" y="823" font-family="Lato,sans-serif" font-size="13" fill="#1a7a4a" textLength="169">APARTMENT HOMES</text>
<path d="M811,837H1149" stroke="#2f8259" stroke-width="1"/>
<text x="811" y="862" font-size="17" fill="#0d6b3a" textLength="337">7651 C F HAWN FWY, DALLAS, TX 75217</text>
</g>

<g id="compass">
<circle cx="1440" cy="901" r="39" fill="#eeeeee" stroke="#58595b" stroke-width="4"/>
<path d="M1440,862V872M1440,930V940M1401,901H1411M1469,901H1479M1420,867L1425,875M1460,867L1455,875M1406,881L1414,886M1474,881L1466,886M1406,921L1414,916M1474,921L1466,916M1420,935L1425,927M1460,935L1455,927" stroke="#58595b" stroke-width="1"/>
<circle cx="1440" cy="901" r="27" fill="#fff" stroke="#58595b" stroke-width="3.500"/>
<path d="M1428,889L1440,897L1452,889L1446,901L1452,913L1440,905L1428,913L1434,901Z" fill="#d1d3d4"/>
<path d="M1419,901L1440,895V907Z" fill="#58595b"/><path d="M1462,901L1440,895V907Z" fill="#d2232a"/>
<path d="M1440,852L1445,863H1435ZM1440,950L1445,939H1435ZM1392,901L1403,896V906ZM1489,901L1478,896V906Z" fill="#58595b"/>
<text class="cp" x="1440" y="847">W</text><text class="cp" x="1498" y="908">N</text><text class="cp" x="1383" y="907">S</text><text class="cp" x="1440" y="968">E</text>
</g>
</svg>
